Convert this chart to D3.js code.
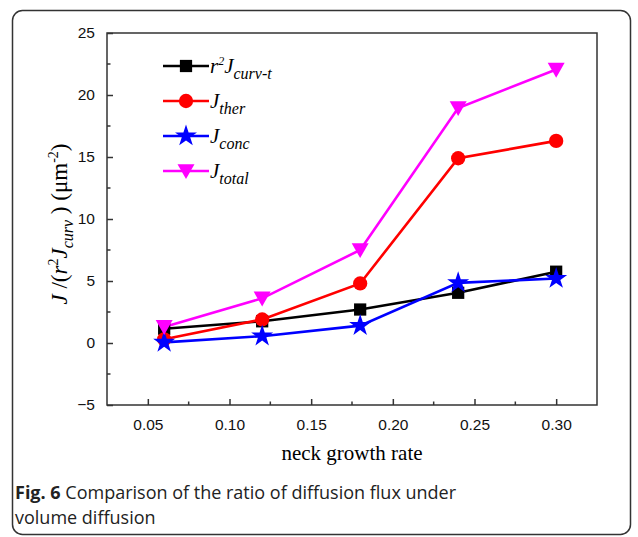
<!DOCTYPE html>
<html>
<head>
<meta charset="utf-8">
<script src="https://d3js.org/d3.v7.min.js"></script>
<style>
body { margin: 0; background: #fff; }
svg { display: block; }
</style>
</head>
<body>
<svg id="chart" width="638" height="537"></svg>
<script>
// data
var rates = [0.06, 0.12, 0.18, 0.24, 0.30];
var curvT = [1.15, 1.75, 2.7, 4.05, 5.75];
var ther = [0.3, 1.9, 4.8, 14.9, 16.3];
var conc = [0.05, 0.55, 1.4, 4.85, 5.2];
var total = [1.3, 3.6, 7.5, 18.95, 22.05];
var xTicks = [0.05, 0.10, 0.15, 0.20, 0.25, 0.30];
var yTicks = [-5, 0, 5, 10, 15, 20, 25];

var series = [
    {key: "curv", values: curvT, color: "#000000", symbol: d3.symbolSquare, size: 150},
    {key: "ther", values: ther, color: "#ff0000", symbol: d3.symbolCircle, size: 160},
    {key: "conc", values: conc, color: "#0000ff", symbol: d3.symbolStar, size: 150},
    {key: "total", values: total, color: "#ff00ff", symbol: "tri", size: 0}
];

var svg = d3.select("#chart");

// outer figure frame
svg.append("rect")
    .attr("x", 12.5).attr("y", 10.5)
    .attr("width", 618).attr("height", 524)
    .attr("rx", 10)
    .attr("fill", "none").attr("stroke", "#333").attr("stroke-width", 1.5);

var pLeft = 107, pTop = 33, pRight = 597, pBottom = 405;

var x = d3.scaleLinear().domain([0.025, 0.325]).range([pLeft, pRight]);
var y = d3.scaleLinear().domain([-5, 25]).range([pBottom, pTop]);

// plot frame
svg.append("rect")
    .attr("x", pLeft).attr("y", pTop)
    .attr("width", pRight - pLeft).attr("height", pBottom - pTop)
    .attr("fill", "none").attr("stroke", "#333").attr("stroke-width", 1.5);

// axes with inward ticks
var xAxis = d3.axisBottom(x).tickValues(xTicks).tickFormat(d3.format(".2f")).tickSizeInner(-6).tickSizeOuter(0).tickPadding(14);
var gx = svg.append("g").attr("transform", "translate(0," + pBottom + ")").call(xAxis);
var yAxis = d3.axisLeft(y).tickValues(yTicks).tickFormat(d3.format("d")).tickSizeInner(-6).tickSizeOuter(0).tickPadding(12);
var gy = svg.append("g").attr("transform", "translate(" + pLeft + ",0)").call(yAxis);
[gx, gy].forEach(function(g) {
    g.select(".domain").remove();
    g.selectAll("line").attr("stroke", "#333").attr("stroke-width", 1.5);
    g.selectAll("text").attr("font-family", "Liberation Sans, Arial, sans-serif").attr("font-size", 15.5).attr("fill", "#111");
});

// minor ticks
var xMinor = [0.075, 0.125, 0.175, 0.225, 0.275];
svg.append("g").selectAll("line").data(xMinor).join("line")
    .attr("x1", function(d) { return x(d); }).attr("x2", function(d) { return x(d); })
    .attr("y1", pBottom).attr("y2", pBottom - 3.5)
    .attr("stroke", "#333").attr("stroke-width", 1.5);
var yMinor = [-2.5, 2.5, 7.5, 12.5, 17.5, 22.5];
svg.append("g").selectAll("line").data(yMinor).join("line")
    .attr("y1", function(d) { return y(d); }).attr("y2", function(d) { return y(d); })
    .attr("x1", pLeft).attr("x2", pLeft + 3.5)
    .attr("stroke", "#333").attr("stroke-width", 1.5);

function triPath(s) {
    return "M" + (-s) + "," + (-s * 0.8) + "L" + s + "," + (-s * 0.8) + "L0," + (s * 0.95) + "Z";
}

function marker(g, s) {
    if (s.symbol === "tri") {
        g.append("path").attr("d", triPath(8.5)).attr("fill", s.color);
    } else {
        g.append("path").attr("d", d3.symbol().type(s.symbol).size(s.size)()).attr("fill", s.color);
    }
}

var line = d3.line().x(function(d, i) { return x(rates[i]); }).y(function(d) { return y(d); });

series.forEach(function(s) {
    svg.append("path").datum(s.values)
        .attr("d", line)
        .attr("fill", "none").attr("stroke", s.color).attr("stroke-width", 2.6);
});
series.forEach(function(s) {
    s.values.forEach(function(v, i) {
        var g = svg.append("g").attr("transform", "translate(" + x(rates[i]) + "," + y(v) + ")");
        marker(g, s);
    });
});

// legend
var legY = [66, 101, 136, 171];
var serif = "Liberation Serif, Times New Roman, serif";
series.forEach(function(s, i) {
    var g = svg.append("g").attr("transform", "translate(163," + legY[i] + ")");
    g.append("line").attr("x1", 0).attr("x2", 46).attr("stroke", s.color).attr("stroke-width", 2.6);
    var m = g.append("g").attr("transform", "translate(23,0)");
    marker(m, s);
});
function legText(yy, parts) {
    var t = svg.append("text").attr("x", 210).attr("y", yy + 7)
        .attr("font-family", serif).attr("font-style", "italic").attr("font-size", 21);
    parts.forEach(function(p) {
        var ts = t.append("tspan").text(p[0]);
        if (p[1]) ts.attr("dy", p[1]);
        if (p[2]) ts.attr("font-size", p[2]);
    });
}
legText(legY[0], [["r"], ["2", -8, 12], ["J", 8], ["curv-t", 6, 16]]);
legText(legY[1], [["J"], ["ther", 6, 16]]);
legText(legY[2], [["J"], ["conc", 6, 16]]);
legText(legY[3], [["J"], ["total", 6, 16]]);

// y axis label
var yl = svg.append("text")
    .attr("transform", "translate(67,224) rotate(-90)")
    .attr("text-anchor", "middle")
    .attr("font-family", serif).attr("font-size", 23);
yl.append("tspan").attr("font-style", "italic").text("J");
yl.append("tspan").text(" /(");
yl.append("tspan").attr("font-style", "italic").text("r");
yl.append("tspan").attr("dy", -9).attr("font-size", 14).text("2");
yl.append("tspan").attr("dy", 9).attr("font-style", "italic").text("J");
yl.append("tspan").attr("dy", 6).attr("font-size", 16).attr("font-style", "italic").text("curv");
yl.append("tspan").attr("dy", -6).text(" )  (μm");
yl.append("tspan").attr("dy", -9).attr("font-size", 14).text("-2");
yl.append("tspan").attr("dy", 9).text(")");

// x axis label
svg.append("text")
    .attr("x", (pLeft + pRight) / 2).attr("y", 460)
    .attr("text-anchor", "middle")
    .attr("font-family", serif).attr("font-size", 21)
    .text("neck growth rate");

// caption
var cap = svg.append("text").attr("x", 15).attr("y", 499)
    .attr("font-family", "Open Sans, Noto Sans, sans-serif").attr("font-size", 18).attr("fill", "#222");
cap.append("tspan").attr("font-weight", "bold").text("Fig. 6");
cap.append("tspan").text(" Comparison of the ratio of diffusion flux under");
svg.append("text").attr("x", 15).attr("y", 524)
    .attr("font-family", "Open Sans, Noto Sans, sans-serif").attr("font-size", 18).attr("fill", "#222")
    .text("volume diffusion");
</script>
</body>
</html>
